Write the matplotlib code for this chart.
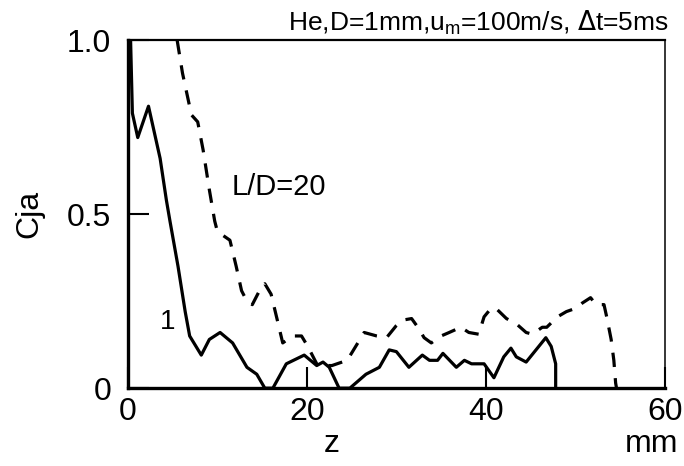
import matplotlib
matplotlib.use("Agg")
import matplotlib.pyplot as plt

plt.rcParams['font.family'] = ['Liberation Sans', 'DejaVu Sans']

# L/D = 1 (solid)
z_1 = [0.3, 0.5, 1.1, 2.3, 3.6, 4.3, 4.7, 5.6, 6.4, 6.9, 8.2, 9.1, 10.3, 11.7, 13.3,
       14.4, 15.3, 16.2, 17.7, 19.7, 21.1, 21.8, 22.5, 23.6, 24.8, 26.6, 28.1, 29.2,
       30.0, 31.4, 32.9, 33.7, 34.6, 35.2, 36.7, 37.6, 38.4, 39.1, 39.8, 40.9, 42.0,
       42.8, 43.4, 44.5, 45.6, 46.7, 47.3, 47.8, 47.8]
c_1 = [1.0, 0.79, 0.72, 0.81, 0.66, 0.54, 0.48, 0.35, 0.22, 0.15, 0.095, 0.14, 0.16,
       0.13, 0.06, 0.04, 0.0, 0.0, 0.07, 0.095, 0.065, 0.075, 0.06, 0.0, 0.0, 0.04,
       0.06, 0.11, 0.105, 0.06, 0.095, 0.08, 0.08, 0.10, 0.06, 0.08, 0.07, 0.07, 0.07,
       0.03, 0.09, 0.115, 0.09, 0.075, 0.11, 0.145, 0.12, 0.07, 0.0]

# L/D = 20 (dashed)
z_20 = [5.5, 6.1, 7.1, 7.8, 8.4, 9.1, 9.7, 10.0, 11.4, 12.1, 12.7, 13.3, 13.9, 14.7,
        15.3, 16.0, 16.7, 17.3, 18.4, 19.4, 20.1, 21.2, 22.8, 24.5, 25.1, 26.4, 27.8,
        28.9, 30.0, 30.6, 31.7, 32.4, 33.1, 33.9, 35.0, 35.9, 37.2, 38.1, 39.2, 39.8,
        40.6, 41.1, 42.3, 43.4, 44.5, 45.2, 46.3, 46.8, 48.0, 49.0, 50.1, 50.8, 51.7,
        52.3, 53.2, 53.5, 54.0, 54.3, 54.5, 54.6]
c_20 = [1.0, 0.905, 0.785, 0.765, 0.685, 0.57, 0.48, 0.45, 0.425, 0.35, 0.28, 0.25,
        0.24, 0.28, 0.30, 0.27, 0.195, 0.13, 0.15, 0.15, 0.12, 0.065, 0.065, 0.08,
        0.105, 0.16, 0.15, 0.145, 0.18, 0.195, 0.20, 0.175, 0.145, 0.13, 0.15, 0.16,
        0.175, 0.16, 0.155, 0.205, 0.23, 0.23, 0.20, 0.185, 0.16, 0.155, 0.175, 0.175,
        0.205, 0.22, 0.23, 0.245, 0.26, 0.24, 0.24, 0.205, 0.14, 0.08, 0.015, 0.0]

x_ticks = [0, 20, 40, 60]
x_ticklabels = ['0', '20', '40', '60']
y_ticks = [0, 0.5, 1.0]
y_ticklabels = ['0', '0.5', '1.0']

fig = plt.figure(figsize=(6.84, 4.66), dpi=100)
ax = fig.add_axes([0.187, 0.167, 0.785, 0.747])

ax.plot(z_1, c_1, color='black', lw=2.3, solid_joinstyle='round')
ax.plot(z_20, c_20, color='black', lw=2.3, linestyle=(0, (4.5, 3.5)))

ax.set_xlim(0, 60)
ax.set_ylim(0, 1.0)
ax.set_xticks(x_ticks)
ax.set_xticklabels(x_ticklabels)
ax.set_yticks(y_ticks)
ax.set_yticklabels(y_ticklabels)
ax.tick_params(direction='in', length=15, width=1.5, labelsize=23, colors='black')
ax.tick_params(axis='y', pad=12)
ax.tick_params(axis='x', pad=6)

ax.spines['left'].set_linewidth(2.4)
ax.spines['bottom'].set_linewidth(2.4)
ax.spines['top'].set_linewidth(1.6)
ax.spines['right'].set_linewidth(1.1)

ax.set_ylabel('Cja', fontsize=23)
ax.yaxis.set_label_coords(-0.155, 0.5)

ax.text(11.6, 0.555, 'L/D=20', fontsize=21)
ax.text(3.6, 0.17, '1', fontsize=20)

fig.text(0.485, 0.03, 'z', fontsize=23, ha='center')
fig.text(0.952, 0.03, 'mm', fontsize=23, ha='center')
fig.text(0.977, 0.935, r'He,D=1mm,u$_{\mathregular{m}}$=100m/s, $\Delta$t=5ms',
         fontsize=19, ha='right')

fig.savefig('out.png', dpi=100)
